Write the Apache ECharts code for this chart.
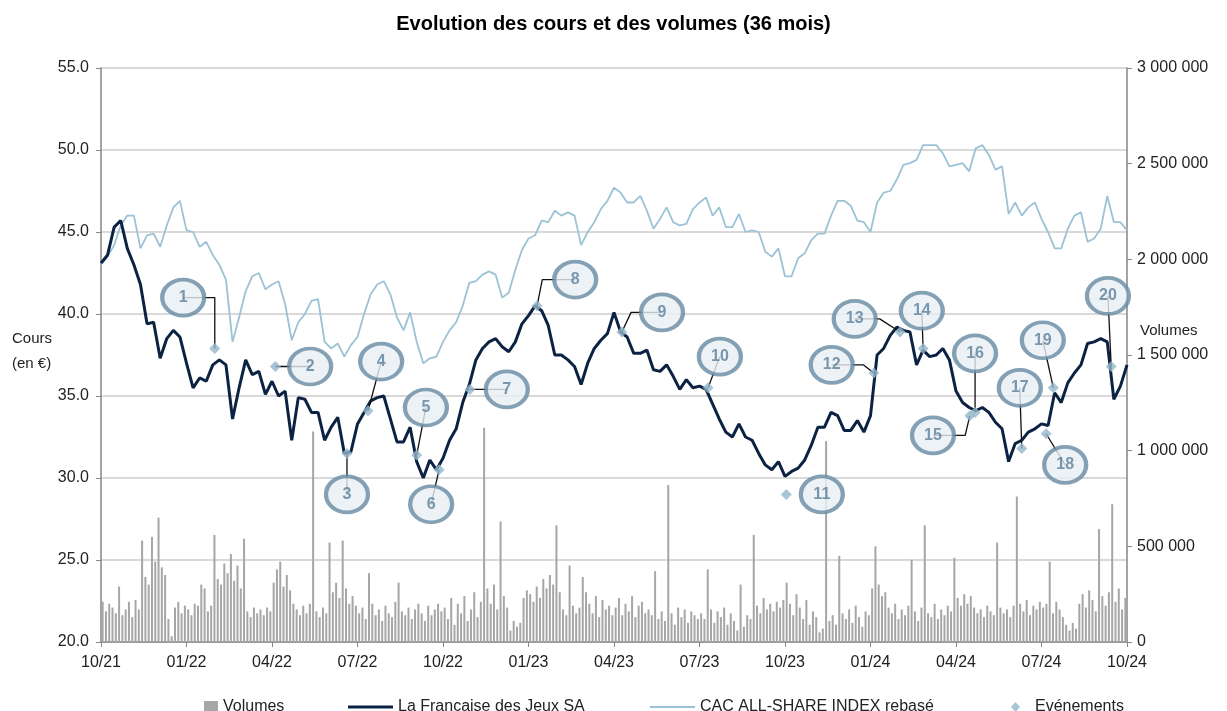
<!DOCTYPE html>
<html>
<head>
<meta charset="utf-8">
<script src="https://cdn.jsdelivr.net/npm/echarts@6/dist/echarts.min.js"></script>
<style>
html,body{margin:0;padding:0;background:#fff}
#main{width:1227px;height:711px}
</style>
</head>
<body>
<div id="main"></div>
<script>
// libellés trimestriels de l'axe X
var tickLabels = ['10/21','01/22','04/22','07/22','10/22','01/23','04/23','07/23','10/23','01/24','04/24','07/24','10/24'];

// cours hebdo La Francaise des Jeux (EUR)
var fdj = [
  43.1,43.6,45.3,45.7,44.0,43.0,41.8,39.4,39.5,37.3,
  38.5,39.0,38.6,37.0,35.5,36.1,35.9,36.9,37.2,36.9,
  33.6,35.5,37.2,36.3,36.5,35.1,35.9,35.0,35.3,32.3,
  34.9,34.8,34.0,34.0,32.3,33.1,33.7,31.5,31.6,33.3,
  34.0,34.7,34.9,35.0,33.6,32.2,32.2,33.1,31.0,30.0,
  31.1,30.5,31.2,32.3,33.0,34.6,35.7,37.2,37.9,38.3,
  38.5,38.0,37.7,38.3,39.4,39.9,40.5,40.2,39.3,37.5,
  37.5,37.2,36.8,35.7,37.0,37.9,38.4,38.8,40.1,38.9,
  38.6,37.6,37.6,37.8,36.6,36.5,36.9,36.2,35.4,36.0,
  35.5,35.6,35.4,34.5,33.6,32.8,32.5,33.3,32.5,32.3,
  31.5,30.8,30.5,31.0,30.1,30.4,30.6,31.1,32.0,33.1,
  33.1,34.0,33.8,32.9,32.9,33.5,32.8,33.8,37.5,37.9,
  38.7,39.2,39.0,38.9,36.9,37.8,37.4,37.5,37.9,37.2,
  35.3,34.6,34.3,34.1,34.3,34.0,33.4,33.0,31.0,32.1,
  32.3,32.8,33.0,33.3,33.2,35.2,34.6,35.8,36.4,36.9,
  38.2,38.3,38.5,38.3,34.8,35.6,36.9
];

// CAC All-Share rebasé sur le cours FDJ
var cac = [
  43.0,43.5,44.2,45.4,46.0,46.0,44.0,44.8,44.9,44.1,
  45.4,46.5,46.9,45.1,45.0,44.1,44.4,43.6,43.0,42.1,
  38.3,39.8,41.4,42.3,42.5,41.5,41.8,42.0,40.6,38.4,
  39.5,40.0,40.8,40.9,38.3,37.9,38.2,37.4,38.1,38.6,
  40.0,41.2,41.8,42.0,41.2,39.8,39.0,40.1,38.3,37.0,
  37.3,37.4,38.3,39.0,39.5,40.5,41.9,42.0,42.4,42.6,
  42.4,41.0,41.3,42.7,43.9,44.6,44.8,45.7,45.6,46.3,
  46.0,46.2,46.0,44.2,45.0,45.6,46.4,46.9,47.7,47.4,
  46.8,46.8,47.2,46.3,45.2,45.8,46.5,45.6,45.4,45.5,
  46.4,46.8,47.1,46.0,46.5,45.3,45.3,46.1,45.0,45.1,
  45.0,43.8,43.5,44.0,42.3,42.3,43.4,43.7,44.5,44.9,
  44.9,46.0,46.9,46.9,46.6,45.7,45.6,45.0,46.8,47.4,
  47.5,48.2,49.1,49.2,49.4,50.3,50.3,50.3,49.8,49.0,
  49.1,49.2,48.7,50.1,50.3,49.7,48.8,49.0,46.1,46.8,
  46.0,46.5,46.8,45.8,45.0,44.0,44.0,45.2,46.0,46.2,
  44.4,44.6,45.2,47.2,45.6,45.6,45.1
];

// volumes échangés (milliers de titres), deux relevés par semaine
var volumesK = [
  210,160,200,180,150,290,140,170,210,130,220,170,530,340,300,550,420,650,390,350,120,30,180,210,150,190,
  170,140,200,190,300,280,160,190,560,330,300,410,360,460,320,400,280,540,160,130,180,150,170,140,180,160,
  310,380,420,290,350,270,200,170,140,190,150,200,1100,160,130,180,150,520,260,310,230,530,280,200,240,190,
  150,180,120,360,200,140,170,110,190,150,130,210,310,160,140,180,120,170,200,150,110,190,140,170,200,160,
  180,120,230,90,200,150,240,110,170,260,130,210,1120,280,200,300,170,630,240,180,60,110,80,100,230,270,
  250,210,290,230,330,280,350,300,610,260,170,140,400,190,150,180,340,260,200,150,240,130,220,170,190,140,
  180,230,140,200,160,240,130,190,210,150,170,140,370,120,160,110,820,150,90,180,130,170,100,160,140,120,
  150,120,380,170,100,160,130,180,90,150,110,60,300,80,140,120,560,190,150,230,170,200,160,210,180,220,
  310,200,140,250,180,120,220,90,160,130,50,70,1050,110,140,90,450,150,120,170,100,190,130,80,160,140,
  280,500,300,240,260,180,150,200,120,170,140,190,430,160,110,180,610,150,130,200,120,170,140,190,160,440,
  230,190,250,200,240,180,150,170,130,190,160,140,520,180,150,170,130,190,760,200,160,220,140,190,170,210,
  180,200,420,150,210,170,130,90,60,100,70,200,250,180,270,220,160,590,240,190,260,720,210,280,170,230
];

// événements : semaine (depuis 10/21) et cours
var eventWeeks  = [17.3,26.5,37.4,40.6,48.0,51.4,56.1,66.3,79.2,92.3,104.2,117.5,121.5,125.0,132.1,132.9,140.0,143.7,144.8,153.6];
var eventPrices = [37.9,36.8,31.5,34.1,31.4,30.5,35.4,40.5,38.9,35.5,29.0,36.4,38.9,37.9,33.8,34.0,31.8,32.7,35.5,36.8];

// placement des bulles numérotées (mise en page)
var calloutPos = [
  [12.5,41.0],[31.8,36.8],[37.4,29.0],[42.6,37.1],[49.4,34.3],[50.2,28.4],[61.7,35.4],[72.1,42.1],
  [85.3,40.1],[94.1,37.4],[109.6,29.0],[111.1,36.9],[114.6,39.7],[124.8,40.2],[126.5,32.6],[132.9,37.6],
  [139.7,35.5],[146.6,30.8],[143.2,38.4],[153.1,41.1]
];
var calloutElbow = {0:[17.3,41.0], 7:[67.1,42.1], 8:[80.6,40.1], 11:[115.9,36.9], 12:[118.4,39.7], 14:[131.4,32.6]};
var noConnector = [10];

var FONT = 'Liberation Sans';
var weeks = fdj.map(function(v, i){ return 'S' + i; });
var slots = volumesK.map(function(v, i){ return 'V' + i; });

function spaced(v){
  return String(v).replace(/\B(?=(\d{3})+(?!\d))/g, ' ');
}

var myChart = echarts.init(document.getElementById('main'));

var series = [
  {
    name: 'Volumes', type: 'bar', xAxisIndex: 1, yAxisIndex: 1,
    data: volumesK.map(function(v){ return v * 1000; }),
    barWidth: 2, itemStyle: {color: '#a6a6a6'}, z: 1, silent: true
  },
  {
    name: 'CAC ALL-SHARE INDEX rebasé', type: 'line', xAxisIndex: 0, yAxisIndex: 0,
    data: cac, symbol: 'none', lineStyle: {color: '#9cc2d6', width: 1.8}, itemStyle: {color: '#9cc2d6'}, z: 2
  },
  {
    name: 'La Francaise des Jeux SA', type: 'line', xAxisIndex: 0, yAxisIndex: 0,
    data: fdj, symbol: 'none', lineStyle: {color: '#0c2243', width: 3}, itemStyle: {color: '#0c2243'}, z: 3
  }
];

//traits de rappel entre bulles et événements
for (var i = 0; i < eventWeeks.length; i++) {
  if (noConnector.indexOf(i) >= 0) continue;
  var pts = [calloutPos[i]];
  if (calloutElbow[i]) pts.push(calloutElbow[i]);
  pts.push([eventWeeks[i], eventPrices[i]]);
  series.push({
    name: 'lien' + i, type: 'line', xAxisIndex: 2, yAxisIndex: 0, data: pts,
    symbol: 'none', silent: true, lineStyle: {color: '#111', width: 1.3}, z: 4
  });
}

series.push({
  name: 'Evénements', type: 'scatter', xAxisIndex: 2, yAxisIndex: 0,
  data: eventWeeks.map(function(w, i){ return [w, eventPrices[i]]; }),
  symbol: 'diamond', symbolSize: 11, itemStyle: {color: '#93b6cb'}, z: 5
});

series.push({
  name: 'bulles', type: 'scatter', xAxisIndex: 2, yAxisIndex: 0,
  data: calloutPos,
  symbol: 'circle', symbolSize: [42, 36], silent: true,
  itemStyle: {color: '#e9eff4', borderColor: '#6689a3', borderWidth: 4},
  label: {
    show: true, position: 'inside', color: '#5a7f9b', fontFamily: FONT, fontSize: 16, fontWeight: 'bold',
    formatter: function(p){ return String(p.dataIndex + 1); }
  },
  z: 6
});

var legendText = {fontFamily: FONT, fontSize: 16, color: '#222'};

var option = {
  animation: false,
  backgroundColor: '#fff',
  title: {
    text: 'Evolution des cours et des volumes (36 mois)',
    left: 'center', top: 9,
    textStyle: {fontFamily: FONT, fontSize: 20, fontWeight: 'bold', color: '#000'}
  },
  legend: [
    {data: [{name: 'Volumes', icon: 'rect'}], left: 199, top: 694, itemWidth: 14, itemHeight: 12, textStyle: legendText},
    {data: [{name: 'La Francaise des Jeux SA', icon: 'rect'}], left: 343, top: 694, itemWidth: 45, itemHeight: 3, textStyle: legendText},
    {data: [{name: 'CAC ALL-SHARE INDEX rebasé', icon: 'rect'}], left: 645, top: 694, itemWidth: 45, itemHeight: 2, textStyle: legendText},
    {data: [{name: 'Evénements', icon: 'diamond'}], left: 1006, top: 694, itemWidth: 9, itemHeight: 10,
      textStyle: {fontFamily: FONT, fontSize: 16, color: '#222', padding: [0, 0, 0, 10]}}
  ],
  grid: {left: 101, right: 100, top: 68, bottom: 69, containLabel: false},
  graphic: [
    {type: 'text', left: 12, top: 331, style: {text: 'Cours', fontFamily: FONT, fontSize: 15, fill: '#222'}},
    {type: 'text', left: 12, top: 356, style: {text: '(en €)', fontFamily: FONT, fontSize: 15, fill: '#222'}},
    {type: 'text', left: 1140, top: 323, style: {text: 'Volumes', fontFamily: FONT, fontSize: 15, fill: '#222'}}
  ],
  xAxis: [
    {
      type: 'category', data: weeks, boundaryGap: false,
      axisLine: {lineStyle: {color: '#868686', width: 1.5}},
      axisTick: {interval: 12, length: 5, lineStyle: {color: '#868686'}},
      axisLabel: {
        interval: 12, margin: 13, color: '#222', fontFamily: FONT, fontSize: 16,
        formatter: function(v, idx){ return idx % 13 === 0 ? tickLabels[idx / 13] : ''; }
      },
      splitLine: {show: false}
    },
    {type: 'category', data: slots, show: false, boundaryGap: true},
    {type: 'value', min: 0, max: 156, show: false}
  ],
  yAxis: [
    {
      type: 'value', min: 20, max: 55, interval: 5, position: 'left',
      axisLine: {show: true, lineStyle: {color: '#868686', width: 1.5}},
      axisTick: {show: true, length: 5, lineStyle: {color: '#868686'}},
      axisLabel: {margin: 12, color: '#222', fontFamily: FONT, fontSize: 16, formatter: function(v){ return v.toFixed(1); }},
      splitLine: {lineStyle: {color: '#d9d9d9', width: 2}}
    },
    {
      type: 'value', min: 0, max: 3000000, interval: 500000, position: 'right',
      axisLine: {show: true, lineStyle: {color: '#868686', width: 1.5}},
      axisTick: {show: true, length: 5, lineStyle: {color: '#868686'}},
      axisLabel: {margin: 10, color: '#222', fontFamily: FONT, fontSize: 16, formatter: spaced},
      splitLine: {show: false}
    }
  ],
  series: series
};

myChart.setOption(option);
window.onresize = myChart.resize;
</script>
</body>
</html>
